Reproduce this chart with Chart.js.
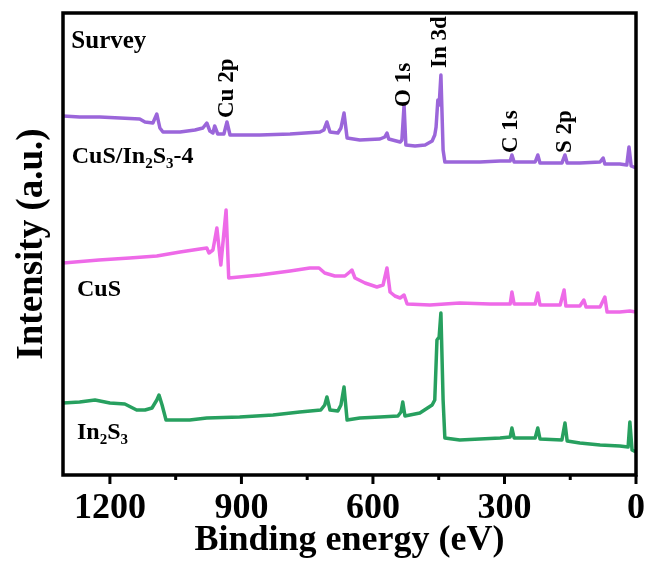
<!DOCTYPE html>
<html lang="en">
  <head>
    <meta charset="UTF-8" />
    <title>XPS survey spectra</title>
    <script src="https://cdn.jsdelivr.net/npm/chart.js"></script>
    <style>
      html, body { margin: 0; padding: 0; background: #fff; }
      #wrap { width: 649px; height: 567px; }
    </style>
  </head>
  <body>
    <div id="wrap"><canvas id="surveyChart" width="649" height="567"></canvas></div>
    <script>
      // binding energy (eV) / intensity (a.u., offset per sample)
      const energyComposite = [1307, 1269, 1223, 1177, 1132, 1120, 1102, 1093, 1086, 1079, 1040, 1006, 988, 979, 972, 965, 961, 954, 940, 933, 926, 858, 789, 721, 712, 705, 698, 680, 673, 666, 659, 630, 584, 573, 568, 564, 538, 534, 529, 525, 504, 481, 465, 459, 456, 452, 449, 445, 440, 436, 402, 356, 310, 287, 283, 278, 230, 224, 219, 169, 162, 157, 128, 82, 75, 71, 37, 21, 16, 11, 0];
      const intensityComposite = [361, 360, 360, 359, 358, 355, 354, 363, 349, 345, 345, 347, 349, 354, 346, 344, 351, 343, 343, 355, 342, 342, 343, 345, 347, 355, 345, 344, 349, 364, 339, 337, 338, 340, 344, 338, 335, 337, 372, 332, 331, 332, 336, 342, 350, 377, 372, 402, 327, 315, 315, 315, 316, 316, 322, 315, 315, 322, 314, 314, 322, 314, 314, 315, 319, 313, 313, 312, 330, 311, 309];

      const energyCuS = [1307, 1225, 1155, 1093, 1040, 995, 979, 974, 965, 956, 947, 935, 929, 858, 789, 744, 723, 710, 687, 664, 653, 648, 641, 618, 591, 577, 568, 561, 550, 538, 529, 522, 470, 402, 333, 299, 287, 283, 278, 230, 224, 219, 173, 164, 160, 128, 119, 114, 82, 71, 66, 37, 14, 0];
      const intensityCuS = [214, 217, 219, 221, 225, 228, 229, 224, 227, 249, 212, 267, 199, 202, 206, 209, 209, 204, 201, 201, 205, 207, 199, 194, 190, 192, 209, 185, 181, 179, 182, 173, 172, 174, 173, 173, 173, 185, 173, 173, 184, 172, 172, 187, 171, 171, 177, 170, 170, 180, 165, 165, 166, 165];

      const energyIn2S3 = [1307, 1269, 1234, 1200, 1166, 1139, 1120, 1104, 1093, 1088, 1081, 1072, 1018, 979, 904, 828, 767, 719, 710, 705, 698, 680, 673, 666, 659, 630, 584, 543, 536, 532, 527, 493, 465, 459, 454, 449, 445, 440, 436, 402, 356, 310, 287, 283, 278, 230, 224, 219, 169, 162, 157, 128, 82, 37, 18, 14, 9, 0];
      const intensityIn2S3 = [74, 75, 77, 74, 73, 67, 67, 69, 77, 82, 72, 57, 57, 59, 60, 62, 65, 67, 72, 80, 67, 66, 72, 90, 57, 59, 60, 61, 65, 75, 61, 64, 72, 77, 137, 140, 164, 77, 39, 37, 38, 39, 40, 49, 39, 39, 49, 38, 37, 54, 36, 34, 32, 31, 30, 55, 27, 25];

      const tickValues = [0, 150, 300, 450, 600, 750, 900, 1050, 1200];
      const peakNames = ["Cu 2p", "O 1s", "In 3d", "C 1s", "S 2p"];
      const peakEnergies = [932, 530, 446, 284, 162];

      const serif = "'Liberation Serif', 'Times New Roman', serif";

      function toPoints(xs, ys) {
        return xs.map((x, i) => ({ x: x, y: ys[i] }));
      }

      // label text pieces: [text, isSubscript]
      const sampleLabels = [
        { parts: [["CuS/In", false], ["2", true], ["S", false], ["3", true], ["-4", false]], e: 1287, i: 320 },
        { parts: [["CuS", false]], e: 1275, i: 187 },
        { parts: [["In", false], ["2", true], ["S", false], ["3", true]], e: 1275, i: 44 },
      ];

      function drawParts(ctx, parts, x, y) {
        let cx = x;
        parts.forEach(([txt, sub]) => {
          ctx.font = "bold " + (sub ? 15 : 24) + "px " + serif;
          ctx.fillText(txt, cx, sub ? y + 7 : y);
          cx += ctx.measureText(txt).width;
        });
      }

      const frameAndLabels = {
        id: "frameAndLabels",
        afterDatasetsDraw(chart) {
          const { ctx, chartArea: a } = chart;
          const xs = chart.scales.x;
          const ys = chart.scales.y;
          ctx.save();
          ctx.strokeStyle = "#000";
          ctx.lineWidth = 3.5;
          ctx.strokeRect(a.left, a.top, a.right - a.left, a.bottom - a.top);

          // outward tick marks, longer on labelled energies
          ctx.lineWidth = 3;
          tickValues.forEach((v) => {
            const px = xs.getPixelForValue(v);
            ctx.beginPath();
            ctx.moveTo(px, a.bottom);
            ctx.lineTo(px, a.bottom + (v % 300 === 0 ? 9 : 5));
            ctx.stroke();
          });

          ctx.fillStyle = "#000";
          ctx.textBaseline = "alphabetic";
          ctx.textAlign = "left";
          ctx.font = "bold 25px " + serif;
          ctx.fillText("Survey", xs.getPixelForValue(1288), ys.getPixelForValue(429));

          ctx.textBaseline = "middle";
          sampleLabels.forEach((s) => {
            drawParts(ctx, s.parts, xs.getPixelForValue(s.e), ys.getPixelForValue(s.i));
          });

          const peakBottoms = [359, 370, 409, 324, 324];
          ctx.font = "bold 23px " + serif;
          peakNames.forEach((name, k) => {
            ctx.save();
            ctx.translate(xs.getPixelForValue(peakEnergies[k]), ys.getPixelForValue(peakBottoms[k]));
            ctx.rotate(-Math.PI / 2);
            ctx.textAlign = "left";
            ctx.textBaseline = "middle";
            ctx.fillText(name, 0, 0);
            ctx.restore();
          });
          ctx.restore();
        },
      };

      const lineStyle = { borderWidth: 3.5, pointRadius: 0, tension: 0, borderJoinStyle: "round", fill: false };

      new Chart(document.getElementById("surveyChart").getContext("2d"), {
        type: "line",
        data: {
          datasets: [
            Object.assign({ label: "CuS/In2S3-4", data: toPoints(energyComposite, intensityComposite), borderColor: "#9b66da" }, lineStyle),
            Object.assign({ label: "CuS", data: toPoints(energyCuS, intensityCuS), borderColor: "#ee6ae8" }, lineStyle),
            Object.assign({ label: "In2S3", data: toPoints(energyIn2S3, intensityIn2S3), borderColor: "#27a05f" }, lineStyle),
          ],
        },
        options: {
          responsive: false,
          animation: false,
          devicePixelRatio: 1,
          layout: { padding: { top: 13, right: 13, left: 0, bottom: 0 } },
          plugins: { legend: { display: false }, tooltip: { enabled: false } },
          scales: {
            x: {
              type: "linear",
              reverse: true,
              min: 0,
              max: 1307,
              afterBuildTicks: (scale) => {
                scale.ticks = tickValues.map((v) => ({ value: v }));
              },
              afterFit: (scale) => {
                scale.height = 92;
              },
              grid: { display: false, drawTicks: false },
              border: { display: false },
              ticks: {
                autoSkip: false,
                maxRotation: 0,
                padding: 12,
                color: "#000",
                font: { family: serif, size: 36, weight: "bold" },
                callback: (v) => (v % 300 === 0 ? String(v) : ""),
              },
              title: {
                display: true,
                text: "Binding energy (eV)",
                color: "#000",
                font: { family: serif, size: 36, weight: "bold" },
                padding: { top: 0, bottom: 5 },
              },
            },
            y: {
              min: 2,
              max: 464,
              afterFit: (scale) => {
                scale.width = 63;
              },
              grid: { display: false, drawTicks: false },
              border: { display: false },
              ticks: { display: false },
              title: {
                display: true,
                text: "Intensity (a.u.)",
                color: "#000",
                font: { family: serif, size: 37, weight: "bold" },
                padding: { top: 10, bottom: 0 },
              },
            },
          },
        },
        plugins: [frameAndLabels],
      });
    </script>
  </body>
</html>
